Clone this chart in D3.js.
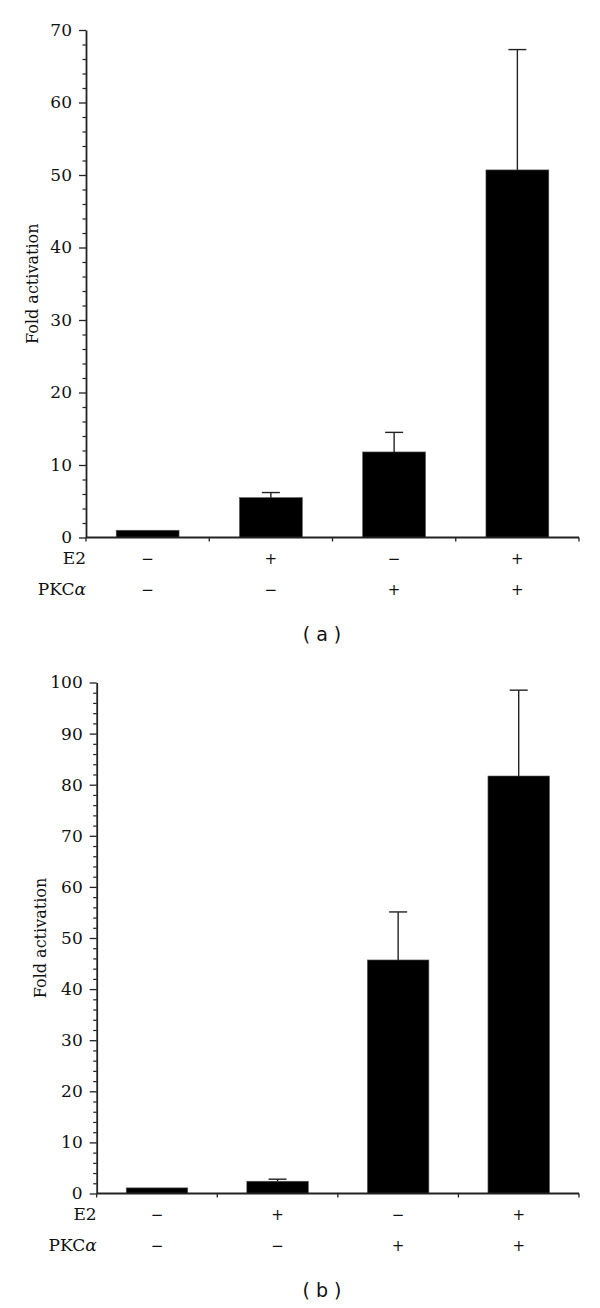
<!DOCTYPE html>
<html>
<head>
<meta charset="utf-8">
<script src="https://cdn.jsdelivr.net/npm/d3@7"></script>
<style>
  body { margin: 0; background: #fff; }
  svg { display: block; }
</style>
</head>
<body>
<div id="chart"></div>
<script>
// conditions (same for both panels)
var e2Signs  = ["\u2212", "+", "\u2212", "+"];
var pkcSigns = ["\u2212", "\u2212", "+", "+"];

// panel (a)
var foldA  = [1.0, 5.5, 11.8, 50.7];
var errA   = [0, 0.7, 2.7, 16.6];
var ticksA = [0, 10, 20, 30, 40, 50, 60, 70];

// panel (b)
var foldB  = [1.1, 2.4, 45.7, 81.7];
var errB   = [0, 0.4, 9.4, 16.8];
var ticksB = [0, 10, 20, 30, 40, 50, 60, 70, 80, 90, 100];

var serif = "DejaVu Serif, serif";
var sans = "DejaVu Sans, sans-serif";

var svg = d3.select("#chart").append("svg")
    .attr("width", 600)
    .attr("height", 1308);

function drawPanel(vals, errs, ticks, box, letter) {
    var yMax = ticks[ticks.length - 1];
    var idx = d3.range(vals.length);

    var y = d3.scaleLinear().domain([0, yMax]).range([box.bottom, box.top]);
    var x = d3.scaleBand().domain(idx).range([box.left, box.right])
        .paddingInner(0.49).paddingOuter(0.245);

    var g = svg.append("g");

    // minor ticks every 2
    var minor = d3.range(0, yMax, 2).filter(function(v){ return v % 10 != 0; });
    g.append("g")
        .attr("transform", "translate(" + box.left + ",0)")
        .call(d3.axisLeft(y).tickValues(minor).tickSize(3.5).tickFormat(""))
        .call(function(s){
            s.select(".domain").remove();
            s.selectAll("line").attr("stroke", "#222").attr("stroke-width", 1.2);
        });

    // main y axis
    g.append("g")
        .attr("transform", "translate(" + box.left + ",0)")
        .call(d3.axisLeft(y).tickValues(ticks).tickSize(7).tickPadding(7).tickSizeOuter(0))
        .call(function(s){
            s.select(".domain").attr("stroke", "#222").attr("stroke-width", 1.8);
            s.selectAll("line").attr("stroke", "#222").attr("stroke-width", 1.3);
            s.selectAll("text")
                .attr("font-family", serif)
                .attr("font-size", 17)
                .attr("fill", "#111");
        });

    // bars
    g.selectAll("rect.bar")
        .data(idx)
        .enter()
        .append("rect")
        .attr("class", "bar")
        .attr("x", function(d){ return x(d); })
        .attr("width", x.bandwidth())
        .attr("y", function(d){ return y(vals[d]); })
        .attr("height", function(d){ return y(0) - y(vals[d]); })
        .attr("fill", "#000")
        .attr("stroke", "#555")
        .attr("stroke-width", 0.6);

    // error bars (upper only)
    var withErr = idx.filter(function(d){ return errs[d] > 0; });
    var eb = g.selectAll("g.err")
        .data(withErr)
        .enter()
        .append("g")
        .attr("class", "err")
        .attr("stroke", "#222")
        .attr("stroke-width", 1.4);
    eb.append("line")
        .attr("x1", function(d){ return x(d) + x.bandwidth() / 2; })
        .attr("x2", function(d){ return x(d) + x.bandwidth() / 2; })
        .attr("y1", function(d){ return y(vals[d]); })
        .attr("y2", function(d){ return y(vals[d] + errs[d]); });
    eb.append("line")
        .attr("x1", function(d){ return x(d) + x.bandwidth() / 2 - 9; })
        .attr("x2", function(d){ return x(d) + x.bandwidth() / 2 + 9; })
        .attr("y1", function(d){ return y(vals[d] + errs[d]); })
        .attr("y2", function(d){ return y(vals[d] + errs[d]); });

    // x axis line with ticks at group boundaries
    var half = x.step() * x.paddingInner() / 2;
    var bounds = idx.map(function(d){ return x(d) - half; });
    bounds.push(box.right);
    bounds[0] = box.left;
    g.append("line")
        .attr("x1", box.left).attr("x2", box.right)
        .attr("y1", y(0)).attr("y2", y(0))
        .attr("stroke", "#222").attr("stroke-width", 1.8);
    g.selectAll("line.xt")
        .data(bounds)
        .enter()
        .append("line")
        .attr("class", "xt")
        .attr("x1", function(d){ return d; }).attr("x2", function(d){ return d; })
        .attr("y1", y(0)).attr("y2", y(0) + 4)
        .attr("stroke", "#222").attr("stroke-width", 1.3);

    // condition rows
    var rows = [
        {name: "E2", signs: e2Signs, dy: 21},
        {name: "PKC", signs: pkcSigns, dy: 52}
    ];
    rows.forEach(function(r){
        var t = g.append("text")
            .attr("x", box.left)
            .attr("y", y(0) + r.dy)
            .attr("dy", "0.35em")
            .attr("text-anchor", "end")
            .attr("font-family", serif)
            .attr("font-size", 17)
            .attr("fill", "#111")
            .text(r.name);
        if (r.name == "PKC") {
            t.append("tspan").attr("font-style", "italic").text("\u03b1");
        }
        g.selectAll(null)
            .data(r.signs)
            .enter()
            .append("text")
            .attr("x", function(d, i){ return x(i) + x.bandwidth() / 2; })
            .attr("y", y(0) + r.dy)
            .attr("dy", "0.35em")
            .attr("text-anchor", "middle")
            .attr("font-family", sans)
            .attr("font-size", 15)
            .attr("fill", "#111")
            .text(function(d){ return d; });
    });

    // y label
    g.append("text")
        .attr("transform", "translate(" + box.labelX + "," + (box.top + box.bottom) / 2 + ") rotate(-90)")
        .attr("text-anchor", "middle")
        .attr("dy", "0.35em")
        .attr("font-family", serif)
        .attr("font-size", 16)
        .attr("fill", "#111")
        .text("Fold activation");

    // panel letter
    g.append("text")
        .attr("x", 322)
        .attr("y", y(0) + 97)
        .attr("dy", "0.35em")
        .attr("text-anchor", "middle")
        .attr("font-family", sans)
        .attr("font-size", 19)
        .attr("fill", "#111")
        .text("( " + letter + " )");
}

drawPanel(foldA, errA, ticksA, {left: 86, right: 579, top: 30, bottom: 537.5, labelX: 32}, "a");
drawPanel(foldB, errB, ticksB, {left: 96.7, right: 579, top: 682.5, bottom: 1193.5, labelX: 40}, "b");
</script>
</body>
</html>
